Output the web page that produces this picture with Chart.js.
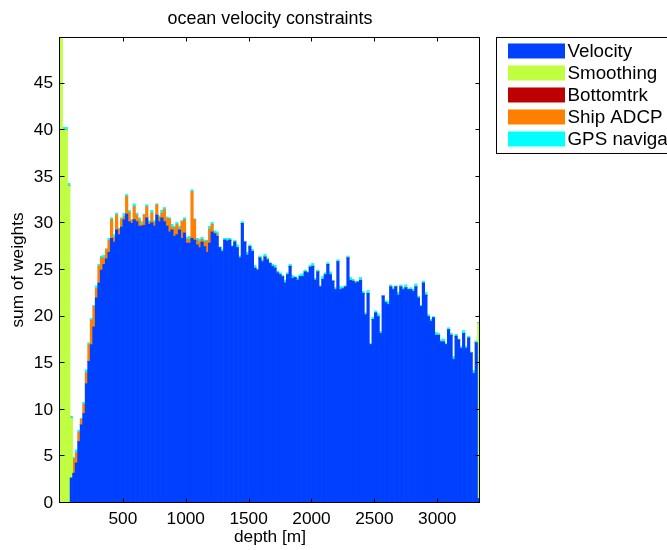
<!DOCTYPE html>
<html lang="en">
<head>
    <meta charset="UTF-8">
    <title>ocean velocity constraints</title>
    <script src="https://cdn.jsdelivr.net/npm/chart.js"></script>
    <style>
        html, body { margin: 0; padding: 0; background: #fff; }
        #chart { display: block; }
    </style>
</head>
<body>
<canvas id="chart" width="667" height="550"></canvas>

<script>
// depth bin centres [m], 20 m bins
const depth = [
    10, 30, 50, 70, 90, 110, 130, 150, 170, 190,
    210, 230, 250, 270, 290, 310, 330, 350, 370, 390,
    410, 430, 450, 470, 490, 510, 530, 550, 570, 590,
    610, 630, 650, 670, 690, 710, 730, 750, 770, 790,
    810, 830, 850, 870, 890, 910, 930, 950, 970, 990,
    1010, 1030, 1050, 1070, 1090, 1110, 1130, 1150, 1170, 1190,
    1210, 1230, 1250, 1270, 1290, 1310, 1330, 1350, 1370, 1390,
    1410, 1430, 1450, 1470, 1490, 1510, 1530, 1550, 1570, 1590,
    1610, 1630, 1650, 1670, 1690, 1710, 1730, 1750, 1770, 1790,
    1810, 1830, 1850, 1870, 1890, 1910, 1930, 1950, 1970, 1990,
    2010, 2030, 2050, 2070, 2090, 2110, 2130, 2150, 2170, 2190,
    2210, 2230, 2250, 2270, 2290, 2310, 2330, 2350, 2370, 2390,
    2410, 2430, 2450, 2470, 2490, 2510, 2530, 2550, 2570, 2590,
    2610, 2630, 2650, 2670, 2690, 2710, 2730, 2750, 2770, 2790,
    2810, 2830, 2850, 2870, 2890, 2910, 2930, 2950, 2970, 2990,
    3010, 3030, 3050, 3070, 3090, 3110, 3130, 3150, 3170, 3190,
    3210, 3230, 3250, 3270, 3290, 3310, 3330
];

const velocity = [
    0, 0, 0, 0, 2.7, 3.2, 4.3, 6.6, 8.4, 9.6,
    12.8, 15.2, 17.0, 18.9, 22.0, 23.6, 25.0, 25.6, 26.2, 26.9,
    28.4, 28.0, 29.3, 28.8, 29.6, 30.4, 31.0, 30.2, 30.0, 30.4,
    30.2, 29.7, 29.7, 29.8, 30.6, 29.9, 30.1, 29.7, 30.9, 30.2,
    30.6, 30.2, 29.7, 29.1, 29.3, 28.6, 28.8, 29.3, 28.4, 29.0,
    27.9, 27.9, 28.4, 28.2, 27.7, 27.4, 28.0, 27.5, 26.9, 27.9,
    29.1, 28.9, 28.6, 27.4, 27.0, 28.2, 28.1, 28.2, 27.5, 28.0,
    27.4, 26.3, 30.0, 28.0, 26.6, 27.5, 27.0, 25.2, 25.0, 26.3,
    25.9, 26.4, 26.1, 25.7, 25.4, 25.2, 24.7, 24.5, 24.3, 23.6,
    24.5, 25.4, 24.1, 24.2, 23.9, 24.3, 24.3, 24.8, 24.7, 25.3,
    25.4, 23.9, 24.8, 23.2, 24.0, 24.5, 25.6, 24.5, 23.8, 22.9,
    25.9, 22.9, 23.0, 23.2, 26.3, 23.9, 23.8, 23.6, 23.7, 23.9,
    22.5, 20.2, 22.5, 17.0, 19.7, 20.4, 20.0, 18.2, 22.2, 21.5,
    21.3, 23.2, 22.9, 23.2, 22.3, 23.2, 22.9, 23.1, 22.9, 22.9,
    22.7, 23.2, 22.0, 21.1, 23.6, 22.3, 20.0, 19.5, 19.9, 18.0,
    18.0, 17.3, 17.3, 17.0, 18.6, 18.0, 15.4, 17.9, 17.5, 16.6,
    18.2, 16.6, 17.7, 16.1, 13.9, 17.2, 0.5
];

const smoothing = [
    52, 40, 40, 34, 6.4, 0, 0, 0, 0, 0,
    0, 0, 0, 0, 0, 0, 0, 0, 0, 0,
    0, 0, 0, 0, 0, 0, 0, 0, 0, 0,
    0, 0, 0, 0, 0, 0, 0, 0, 0, 0,
    0, 0, 0, 0, 0, 0, 0, 0, 0, 0,
    0, 0, 0, 0, 0, 0, 0, 0, 0, 0,
    0, 0, 0, 0, 0, 0, 0, 0, 0, 0,
    0, 0, 0, 0, 0, 0, 0, 0, 0, 0,
    0, 0, 0, 0, 0, 0, 0, 0, 0, 0,
    0, 0, 0, 0, 0, 0, 0, 0, 0, 0,
    0, 0, 0, 0, 0, 0, 0, 0, 0, 0,
    0, 0, 0, 0, 0, 0, 0, 0, 0, 0,
    0, 0, 0, 0, 0, 0, 0, 0, 0, 0,
    0, 0, 0, 0, 0, 0, 0, 0, 0, 0,
    0, 0, 0, 0, 0, 0, 0, 0, 0, 0,
    0, 0, 0, 0, 0, 0, 0, 0, 0, 0,
    0, 0, 0, 0, 0, 0, 18.8
];

// no bottom track weight in this profile
const bottomtrk = [];

// ship adcp only in the upper ~1250 m, zero below
const shipAdcp = [
    0, 0, 0, 0, 0, 1.5, 1.1, 1.0, 0.6, 1.0,
    1.2, 1.8, 2.6, 2.2, 1.0, 1.8, 1.3, 0.7, 1.0, 1.3,
    2.0, 0.5, 1.6, 0.6, 0.8, 0.4, 1.9, 1.0, 0.3, 1.4,
    0.7, 0.7, 0.2, 1.1, 1.2, 0.2, 1.0, 0.4, 1.1, 0.4,
    0.5, 1.3, 0.8, 1.4, 0.3, 0.9, 1.1, 0.1, 1.8, 1.4,
    0.4, 0.4, 5.0, 2.2, 0.5, 0.6, 0.3, 0.5, 1.2, 1.5,
    0.8, 0.1, 0.2
];

const gps = [
    0, 0.3, 0.3, 0.3, 0.2, 0.2, 0.3, 0.2, 0.1, 0.2,
    0.3, 0.2, 0.2, 0.1, 0.3, 0.2, 0.2, 0.3, 0.1, 0.2,
    0.2, 0.3, 0.2, 0.1, 0.2, 0.3, 0.2, 0.2, 0.1, 0.3,
    0.2, 0.2, 0.3, 0.1, 0.2, 0.2, 0.3, 0.2, 0.1, 0.2,
    0.3, 0.2, 0.2, 0.1, 0.3, 0.2, 0.2, 0.3, 0.1, 0.2,
    0.2, 0.3, 0.2, 0.1, 0.2, 0.3, 0.2, 0.2, 0.1, 0.3,
    0.2, 0.2, 0.3, 0.1, 0.2, 0.2, 0.3, 0.2, 0.1, 0.2,
    0.3, 0.2, 0.2, 0.1, 0.3, 0.2, 0.2, 0.3, 0.1, 0.2,
    0.2, 0.3, 0.2, 0.1, 0.2, 0.3, 0.2, 0.2, 0.1, 0.3,
    0.2, 0.2, 0.3, 0.1, 0.2, 0.2, 0.3, 0.2, 0.1, 0.2,
    0.3, 0.2, 0.2, 0.1, 0.3, 0.2, 0.2, 0.3, 0.1, 0.2,
    0.2, 0.3, 0.2, 0.1, 0.2, 0.3, 0.2, 0.2, 0.1, 0.3,
    0.2, 0.2, 0.3, 0.1, 0.2, 0.2, 0.3, 0.2, 0.1, 0.2,
    0.3, 0.2, 0.2, 0.1, 0.3, 0.2, 0.2, 0.3, 0.1, 0.2,
    0.2, 0.3, 0.2, 0.1, 0.2, 0.3, 0.2, 0.2, 0.1, 0.3,
    0.2, 0.2, 0.3, 0.1, 0.2, 0.2, 0.3, 0.2, 0.1, 0.2,
    0.3, 0.2, 0.2, 0.1, 0.3, 0.2, 0.1
];

const xTicks = [500, 1000, 1500, 2000, 2500, 3000];
const yTicks = [0, 5, 10, 15, 20, 25, 30, 35, 40, 45];

const FONT = '"Liberation Sans", Arial, Helvetica, sans-serif';
Chart.defaults.font.family = FONT;
Chart.defaults.color = '#000';

function series(values) {
    return depth.map((d, i) => ({ x: d, y: values[i] ?? 0 }));
}

function bars(label, values, color) {
    return {
        label: label,
        data: series(values),
        backgroundColor: color,
        borderWidth: 0,
        barPercentage: 1,
        categoryPercentage: 1
    };
}

// matlab style box with inward ticks
const axesBox = {
    id: 'axesBox',
    afterDatasetsDraw(chart) {
        const { ctx, chartArea: a, scales: { x, y } } = chart;
        ctx.save();
        ctx.strokeStyle = '#000';
        ctx.lineWidth = 1;
        ctx.beginPath();
        xTicks.forEach(v => {
            const px = Math.round(x.getPixelForValue(v)) + 0.5;
            ctx.moveTo(px, a.bottom); ctx.lineTo(px, a.bottom - 4.5);
            ctx.moveTo(px, a.top); ctx.lineTo(px, a.top + 4.5);
        });
        yTicks.forEach(v => {
            const py = Math.round(y.getPixelForValue(v)) - 0.5;
            ctx.moveTo(a.left, py); ctx.lineTo(a.left + 4.5, py);
            ctx.moveTo(a.right, py); ctx.lineTo(a.right - 4.5, py);
        });
        ctx.stroke();
        ctx.strokeRect(a.left - 0.5, a.top + 0.5, a.right - a.left, a.bottom - a.top - 1);
        ctx.restore();
    }
};

// boxed legend to the right, runs past the window edge like the original
const boxLegend = {
    id: 'boxLegend',
    afterDraw(chart) {
        const ctx = chart.ctx;
        const left = chart.chartArea.right + 16.5;
        const top = chart.chartArea.top + 0.5;
        ctx.save();
        ctx.fillStyle = '#fff';
        ctx.fillRect(left, top, 220, 116);
        ctx.strokeStyle = '#000';
        ctx.lineWidth = 1;
        ctx.strokeRect(left, top, 220, 116);
        ctx.font = '18.8px ' + FONT;
        ctx.textBaseline = 'middle';
        chart.data.datasets.forEach((ds, i) => {
            const cy = top + 13.5 + i * 22;
            ctx.fillStyle = ds.backgroundColor;
            ctx.fillRect(left + 11.5, cy - 7.5, 57, 15);
            ctx.fillStyle = '#000';
            ctx.fillText(ds.label, left + 71, cy + 0.5);
        });
        ctx.restore();
    }
};

new Chart(document.getElementById('chart'), {
    type: 'bar',
    data: {
        datasets: [
            bars('Velocity', velocity, '#0040ff'),
            bars('Smoothing', smoothing, '#bfff40'),
            bars('Bottomtrk', bottomtrk, '#bf0000'),
            bars('Ship ADCP', shipAdcp, '#ff8000'),
            bars('GPS navigation', gps, '#00ffff')
        ]
    },
    options: {
        responsive: false,
        animation: false,
        layout: { padding: { left: 0, right: 187, top: 0, bottom: 0 } },
        plugins: {
            legend: { display: false },
            tooltip: { enabled: false },
            title: {
                display: true,
                text: 'ocean velocity constraints',
                fullSize: false,
                font: { size: 17.9, weight: 'normal' },
                padding: { top: 8, bottom: 7.5 }
            }
        },
        scales: {
            x: {
                type: 'linear',
                stacked: true,
                offset: false,
                min: 0,
                max: 3340,
                grid: { display: false, drawTicks: false, offset: false },
                border: { display: false },
                afterFit: s => { s.height = 47; },
                afterBuildTicks: s => { s.ticks = xTicks.map(v => ({ value: v })); },
                ticks: {
                    autoSkip: false,
                    maxRotation: 0,
                    padding: 6,
                    font: { size: 17.3 },
                    callback: v => String(v)
                },
                title: {
                    display: true,
                    text: 'depth [m]',
                    font: { size: 17.3 },
                    padding: { top: 0, bottom: 2 }
                }
            },
            y: {
                stacked: true,
                min: 0,
                max: 50,
                grid: { display: false, drawTicks: false },
                border: { display: false },
                afterFit: s => { s.width = 60; },
                afterBuildTicks: s => { s.ticks = yTicks.map(v => ({ value: v })); },
                ticks: {
                    padding: 7,
                    font: { size: 17.3 },
                    callback: v => String(v)
                },
                title: {
                    display: true,
                    text: 'sum of weights',
                    font: { size: 17.3 },
                    padding: { top: 7.5, bottom: 0 }
                }
            }
        }
    },
    plugins: [axesBox, boxLegend]
});
</script>
</body>
</html>
